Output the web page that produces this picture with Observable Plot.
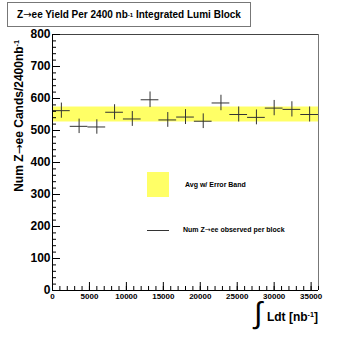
<!DOCTYPE html>
<html><head><meta charset="utf-8">
<script src="https://cdn.jsdelivr.net/npm/d3@7"></script>
<script src="https://cdn.jsdelivr.net/npm/@observablehq/plot@0.6"></script>
<style>
body{margin:0;background:#fff;}
#wrap{position:relative;width:354px;height:340px;font-family:"Liberation Sans",Arial,Helvetica,sans-serif;color:#000;}
#wrap svg{position:absolute;left:0;top:0;}
.ov{position:absolute;white-space:nowrap;font-weight:bold;}
sup{font-size:0.6em;vertical-align:0.55em;line-height:0;}
.arr{font-family:"DejaVu Sans",sans-serif;font-weight:normal;}
</style></head><body><div id="wrap"></div>
<script>
// Lumi block centers (nb^-1), each block 2400 nb^-1 wide
const blockCenters = [1200, 3600, 6000, 8400, 10800, 13200, 15600, 18000, 20400, 22800, 25200, 27600, 30000, 32400, 34800];
const blockHalfWidth = 1200;
// Observed Z->ee candidates per block
const zCounts = [562, 513, 511, 557, 536, 596, 533, 542, 529, 586, 550, 541, 570, 566, 550];
const zErrors = [23.7, 22.6, 22.6, 23.6, 23.2, 24.4, 23.1, 23.3, 23.0, 24.2, 23.5, 23.3, 23.9, 23.8, 23.5];
// Average with error band
const avgYield = 550;
const avgError = 23.4;
const xRange = [0, 36000];
const yRange = [0, 800];
const xMajorTicks = [0, 5000, 10000, 15000, 20000, 25000, 30000, 35000];
const yMajorTicks = [0, 100, 200, 300, 400, 500, 600, 700, 800];
const xMinorTicks = d3.range(0, 36001, 1000);
const yMinorTicks = d3.range(0, 801, 20);

const points = blockCenters.map((c, i) => ({
  lo: c - blockHalfWidth, hi: c + blockHalfWidth, x: c,
  y: zCounts[i], ylo: zCounts[i] - zErrors[i], yhi: zCounts[i] + zErrors[i]
}));
const band = [{x1: xRange[0], x2: xRange[1], y1: avgYield - avgError, y2: avgYield + avgError}];

const chart = Plot.plot({
  width: 354, height: 340,
  marginLeft: 52, marginRight: 36, marginTop: 34, marginBottom: 50,
  style: {fontFamily: "Liberation Sans, Arial, sans-serif", background: "transparent", color: "#000"},
  x: {domain: xRange, label: null},
  y: {domain: yRange, label: null},
  marks: [
    Plot.rect(band, {x1: "x1", x2: "x2", y1: "y1", y2: "y2", fill: "#ffff66"}),
    Plot.ruleY(points, {y: "y", x1: "lo", x2: "hi", stroke: "#333", strokeWidth: 1}),
    Plot.ruleX(points, {x: "x", y1: "ylo", y2: "yhi", stroke: "#333", strokeWidth: 1}),
    Plot.ruleY([yRange[1]], {stroke: "#444"}),
    Plot.ruleX([xRange[1]], {stroke: "#777"}),
    Plot.axisX({ticks: xMinorTicks, tickSize: -4, tickFormat: () => "", stroke: "#000"}),
    Plot.axisX({ticks: xMajorTicks, tickSize: -8, tickPadding: 11, fontSize: 8, fontWeight: "bold", tickFormat: d3.format("d"), stroke: "#000"}),
    Plot.axisY({ticks: yMinorTicks, tickSize: -4, tickFormat: () => "", stroke: "#000"}),
    Plot.axisY({ticks: yMajorTicks, tickSize: -8, tickPadding: 10, fontSize: 12, fontWeight: "bold", tickFormat: d3.format("d"), stroke: "#000"}),
    Plot.ruleX([xRange[0]], {stroke: "#000"}),
    Plot.ruleY([yRange[0]], {stroke: "#000"})
  ]
});
const wrap = document.getElementById("wrap");
wrap.appendChild(chart);

function ov(html, css) {
  const d = document.createElement("div");
  d.className = "ov";
  d.innerHTML = html;
  Object.assign(d.style, css);
  wrap.appendChild(d);
  return d;
}
const arrow = '<span class="arr">\u2192</span>';
// Title box
ov("Z" + arrow + "ee Yield Per 2400 nb<sup>-1</sup>&nbsp;Integrated Lumi Block", {
  left: "7px", top: "2px", width: "242px", height: "23px", border: "1px solid #777",
  display: "flex", alignItems: "center", justifyContent: "center", fontSize: "10px", background: "#fff"
});
// Y axis title
ov("Num Z" + arrow + "ee Cands/2400nb<sup>-1</sup>", {
  left: "19px", top: "40px", fontSize: "12px", lineHeight: "14px",
  transformOrigin: "0 0", transform: "rotate(-90deg) translate(-100%,-50%)"
});
// X axis title
ov("\u222B", {left: "254px", top: "296px", fontSize: "30px", fontWeight: "normal", lineHeight: "34px"});
ov("Ldt [nb<sup>-1</sup>]", {right: "36px", top: "310px", fontSize: "12px", lineHeight: "14px"});
// Legend
ov("", {left: "147px", top: "172px", width: "22px", height: "25px", background: "#ffff66"});
ov("Avg w/ Error Band", {left: "185px", top: "180px", fontSize: "7px", lineHeight: "10px"});
ov("", {left: "147px", top: "230px", width: "22px", height: "1px", background: "#333"});
ov("Num Z" + arrow + "ee observed per block", {left: "183px", top: "225px", fontSize: "7px", lineHeight: "10px"});
</script></body></html>
